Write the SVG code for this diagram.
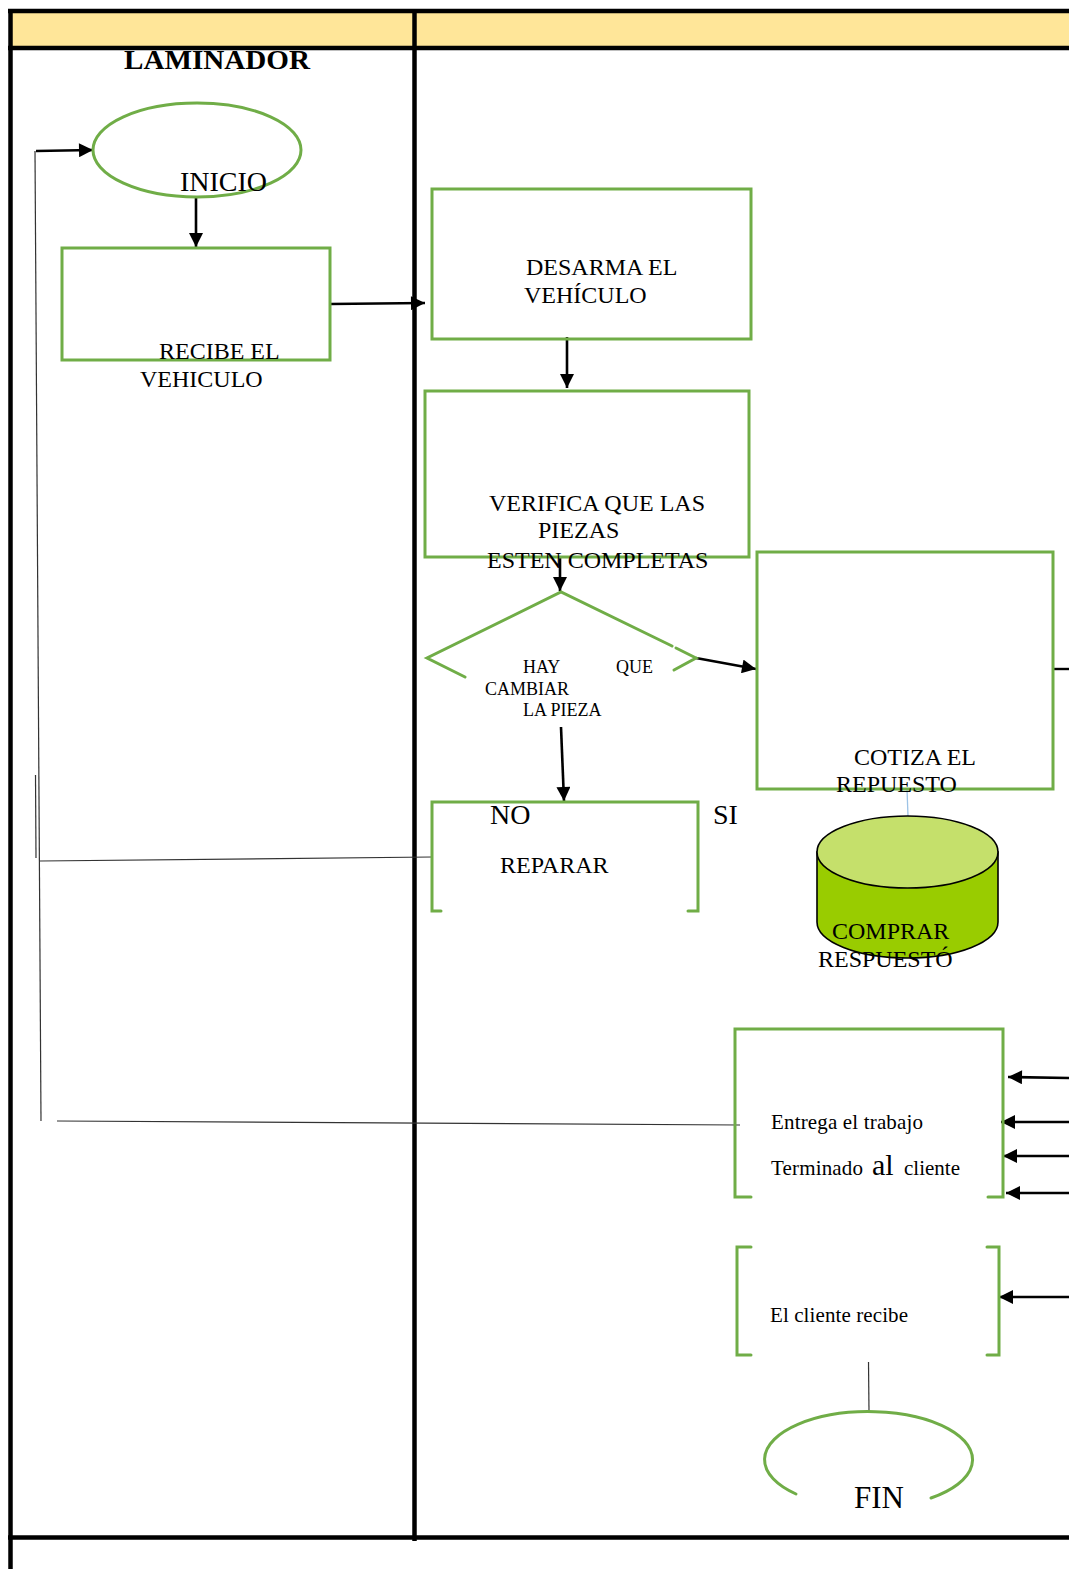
<svg xmlns="http://www.w3.org/2000/svg" width="1069" height="1569" viewBox="0 0 1069 1569">
<defs>
<marker id="ah" viewBox="0 0 10 10" refX="10" refY="5" markerUnits="userSpaceOnUse" markerWidth="15" markerHeight="14" orient="auto">
<path d="M0,0 L10,5 L0,10 z" fill="#000"/>
</marker>
</defs>
<style>
.g{fill:none;stroke:#70AD47;stroke-width:3;stroke-linecap:round}
.t{font-family:"Liberation Serif","Times New Roman",serif;fill:#000}
.a{stroke:#000;stroke-width:2.6;fill:none;marker-end:url(#ah)}
.thin{stroke:#333;stroke-width:1.2;fill:none}
.frame{stroke:#000;stroke-width:4.5;fill:none}
</style>
<rect width="1069" height="1569" fill="#fff"/>
<g id="frame">
<rect x="10" y="11" width="1059" height="37" fill="#FFE699"/>
<line class="frame" x1="8" y1="11" x2="1069" y2="11"/>
<line class="frame" x1="8" y1="48" x2="1069" y2="48"/>
<line class="frame" x1="10.5" y1="9" x2="10.5" y2="1569"/>
<line class="frame" x1="414.5" y1="9" x2="414.5" y2="1541"/>
<line class="frame" x1="8" y1="1537.5" x2="1069" y2="1537.5"/>
<text class="t" x="124" y="69" font-size="28" font-weight="bold" textLength="186" lengthAdjust="spacingAndGlyphs">LAMINADOR</text>
</g>
<g id="connectors">
<line class="a" x1="196" y1="197" x2="196" y2="247"/>
<line class="a" x1="330" y1="304" x2="425" y2="303"/>
<line class="a" x1="567" y1="337" x2="567" y2="388"/>
<line class="a" x1="560" y1="557" x2="560" y2="591"/>
<line class="a" x1="696" y1="658" x2="756" y2="669"/>
<line class="a" x1="561" y1="727" x2="564" y2="801"/>
<line x1="1053" y1="669" x2="1069" y2="669" stroke="#000" stroke-width="2.4"/>
<line x1="907" y1="789" x2="908" y2="816" stroke="#9DC3E6" stroke-width="1.3"/>
<line class="a" x1="36" y1="151" x2="93" y2="150" stroke-width="2"/>
<line class="thin" x1="35" y1="151" x2="41" y2="1121"/>
<line class="thin" x1="35.5" y1="775" x2="36" y2="858"/>
<line class="thin" x1="40" y1="861" x2="432" y2="857"/>
<line class="thin" x1="57" y1="1121" x2="740" y2="1125"/>
<line class="a" x1="1069" y1="1078" x2="1008" y2="1077" stroke-width="2"/>
<line class="a" x1="1069" y1="1122" x2="1001" y2="1122" stroke-width="3"/>
<line class="a" x1="1069" y1="1156" x2="1003" y2="1156" stroke-width="2"/>
<line class="a" x1="1069" y1="1193" x2="1006" y2="1193" stroke-width="2"/>
<line class="a" x1="1069" y1="1297" x2="999" y2="1297"/>
<line class="thin" x1="868.5" y1="1362" x2="869" y2="1412" stroke="#555"/>
</g>
<g id="inicio">
<ellipse class="g" cx="197" cy="150" rx="104" ry="47" stroke-width="2.6"/>
<text class="t" x="180" y="191" font-size="28">INICIO</text>
</g>
<g id="recibe">
<rect class="g" x="62" y="248" width="268" height="112"/>
<text class="t" x="159" y="359" font-size="24">RECIBE EL</text>
<text class="t" x="140" y="387" font-size="24">VEHICULO</text>
</g>
<g id="desarma">
<rect class="g" x="432" y="189" width="319" height="150"/>
<text class="t" x="526" y="275" font-size="24">DESARMA EL</text>
<text class="t" x="524" y="303" font-size="24">VEHÍCULO</text>
</g>
<g id="verifica">
<rect class="g" x="425" y="391" width="324" height="166"/>
<text class="t" x="489" y="511" font-size="24">VERIFICA QUE LAS</text>
<text class="t" x="538" y="538" font-size="24">PIEZAS</text>
<text class="t" x="487" y="568" font-size="24">ESTEN COMPLETAS</text>
</g>
<g id="decision">
<polyline class="g" points="465,677 427,658 561,592 672,646"/>
<polyline class="g" points="676,648 696,658 674,670"/>
<text class="t" x="523" y="673" font-size="18">HAY</text>
<text class="t" x="616" y="673" font-size="18">QUE</text>
<text class="t" x="485" y="695" font-size="18">CAMBIAR</text>
<text class="t" x="523" y="716" font-size="18">LA PIEZA</text>
</g>
<g id="reparar">
<polyline class="g" points="441,911 432,911 432,802 698,802 698,911 688,911"/>
<text class="t" x="490" y="824" font-size="28">NO</text>
<text class="t" x="713" y="824" font-size="28">SI</text>
<text class="t" x="500" y="873" font-size="24">REPARAR</text>
</g>
<g id="cotiza">
<rect class="g" x="757" y="552" width="296" height="237"/>
<text class="t" x="854" y="765" font-size="24">COTIZA EL</text>
<text class="t" x="836" y="792" font-size="24">REPUESTO</text>
</g>
<g id="comprar">
<path d="M817,852 L817,922 A90.5,36 0 0 0 998,922 L998,852 Z" fill="#99CC00" stroke="#000" stroke-width="1.6"/>
<ellipse cx="907.5" cy="852" rx="90.5" ry="36" fill="#C5E06B" stroke="#000" stroke-width="1.6"/>
<text class="t" x="832" y="939" font-size="24">COMPRAR</text>
<text class="t" x="818" y="967" font-size="24">RESPUESTÓ</text>
</g>
<g id="entrega">
<polyline class="g" points="751,1197 735,1197 735,1029 1003,1029 1003,1197 988,1197"/>
<text class="t" x="771" y="1129" font-size="21" textLength="152">Entrega el trabajo</text>
<text class="t" x="771" y="1175" font-size="21"><tspan textLength="92">Terminado</tspan> <tspan x="872" font-size="30">al</tspan> <tspan x="904" textLength="56">cliente</tspan></text>
</g>
<g id="recibe-cliente">
<polyline class="g" points="751,1247 737,1247 737,1355 751,1355"/>
<polyline class="g" points="987,1247 999,1247 999,1355 987,1355"/>
<text class="t" x="770" y="1322" font-size="21" textLength="138">El cliente recibe</text>
</g>
<g id="fin">
<path class="g" d="M796,1494 A104,48 0 1 1 931,1498" stroke-width="2.6"/>
<text class="t" x="854" y="1508" font-size="31">FIN</text>
</g>
</svg>
